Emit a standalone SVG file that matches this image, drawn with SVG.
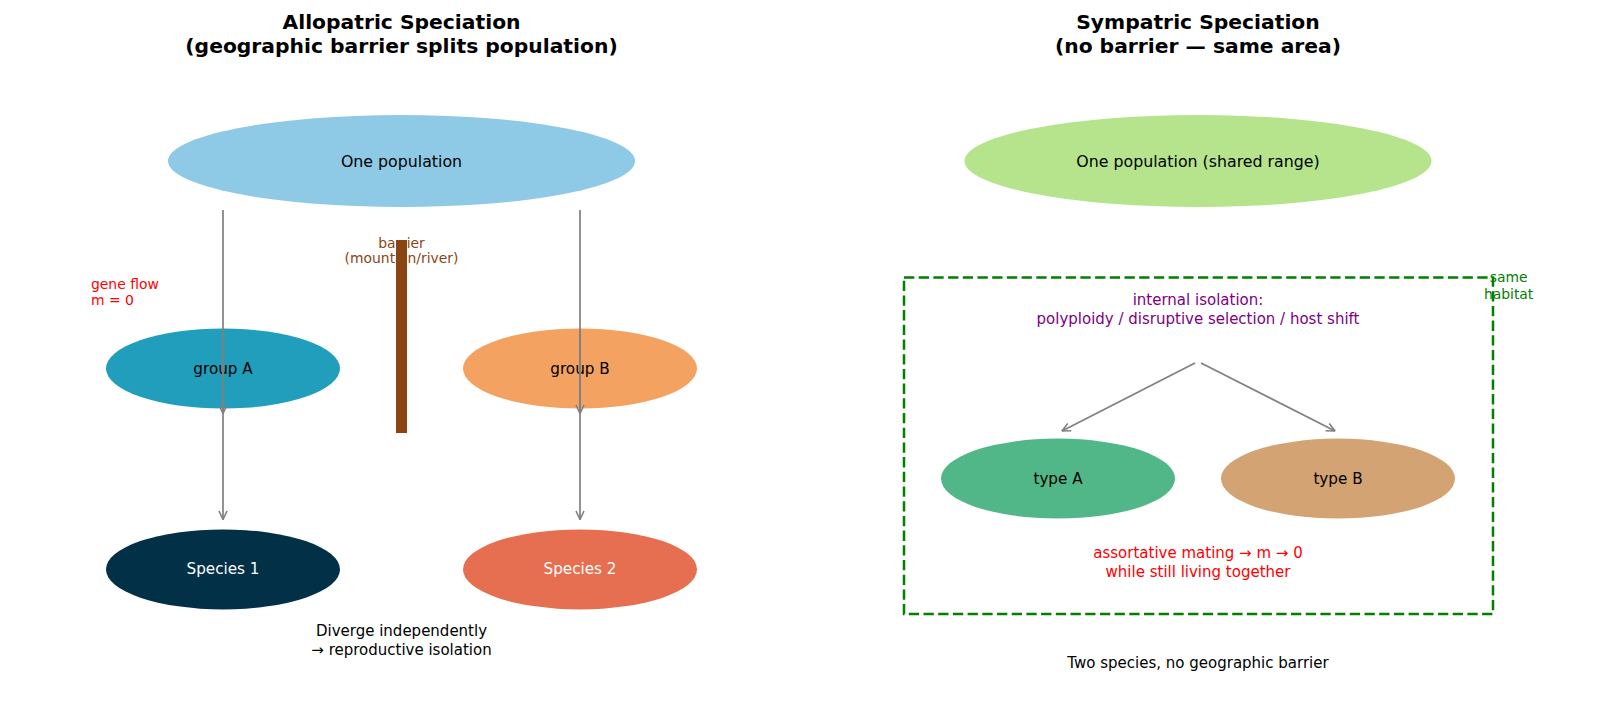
<svg xmlns="http://www.w3.org/2000/svg" width="1600" height="726" viewBox="0 0 1600 726">
<defs>
<style>
text{font-family:"DejaVu Sans","Liberation Sans",sans-serif;}
.title{font-size:20.3px;font-weight:bold;fill:#000;text-anchor:middle;}
.lbl{font-size:15.2px;text-anchor:middle;dominant-baseline:central;}
.big{font-size:15.8px;}
.small{font-size:13.9px;}
.mid{font-size:15px;text-anchor:middle;}
.conn{stroke:#808080;stroke-width:1.7;fill:none;marker-end:url(#arr);}
</style>
<marker id="arr" viewBox="0 0 10 10" refX="9.5" refY="5" markerWidth="10" markerHeight="10" markerUnits="userSpaceOnUse" orient="auto">
<path d="M1,1 L9.5,5 L1,9" fill="none" stroke="#808080" stroke-width="1.6"/>
</marker>
</defs>
<rect width="1600" height="726" fill="#fff"/>

<g id="titles">
<text class="title" x="401.5" y="29">Allopatric Speciation</text>
<text class="title" x="401.5" y="53">(geographic barrier splits population)</text>
<text class="title" x="1198" y="29">Sympatric Speciation</text>
<text class="title" x="1198" y="53">(no barrier — same area)</text>
</g>

<g id="pop-left">
<ellipse cx="401.5" cy="161" rx="233.5" ry="46" fill="#8ECAE6"/>
<text class="lbl big" x="401.5" y="161">One population</text>
</g>
<g id="groupA">
<ellipse cx="223" cy="368.5" rx="117" ry="40" fill="#219EBC"/>
<text class="lbl" x="223" y="368.5">group A</text>
</g>
<g id="groupB">
<ellipse cx="580" cy="368.5" rx="117" ry="40" fill="#F4A261"/>
<text class="lbl" x="580" y="368.5">group B</text>
</g>
<g id="species1">
<ellipse cx="223" cy="569.4" rx="117" ry="40" fill="#023047"/>
<text class="lbl" x="223" y="569.4" fill="#fff">Species 1</text>
</g>
<g id="species2">
<ellipse cx="580" cy="569.4" rx="117" ry="40" fill="#E76F51"/>
<text class="lbl" x="580" y="569.4" fill="#fff">Species 2</text>
</g>

<g id="barrier">
<text class="small" x="401.5" y="247.5" fill="#8B4513" text-anchor="middle">barrier</text>
<text class="small" x="401.5" y="263" fill="#8B4513" text-anchor="middle">(mountain/river)</text>
<rect x="396" y="240" width="11" height="193" fill="#8B4513"/>
</g>

<g id="geneflow">
<text class="small" x="91" y="288.5" fill="#FF0000">gene flow</text>
<text class="small" x="91" y="304.5" fill="#FF0000">m = 0</text>
</g>

<g id="diverge">
<text class="mid" x="401.5" y="636">Diverge independently</text>
<text class="mid" x="401.5" y="654.5">→ reproductive isolation</text>
</g>

<g id="pop-right">
<ellipse cx="1198" cy="161" rx="233.5" ry="46" fill="#B5E48C"/>
<text class="lbl big" x="1198" y="161">One population (shared range)</text>
</g>

<g id="habitat">
<rect x="904" y="277.5" width="589" height="336.5" fill="none" stroke="#008000" stroke-width="2.5" stroke-dasharray="10.3,4.4"/>
<text class="small" x="1508.6" y="282" fill="#008000" text-anchor="middle">same</text>
<text class="small" x="1508.6" y="298.5" fill="#008000" text-anchor="middle">habitat</text>
</g>

<g id="isolation">
<text class="mid" x="1198" y="305.3" fill="#800080">internal isolation:</text>
<text class="mid" x="1198" y="323.6" fill="#800080">polyploidy / disruptive selection / host shift</text>
</g>

<g id="typeA">
<ellipse cx="1058" cy="478.6" rx="117" ry="40" fill="#52B788"/>
<text class="lbl" x="1058" y="478.6">type A</text>
</g>
<g id="typeB">
<ellipse cx="1338" cy="478.6" rx="117" ry="40" fill="#D4A373"/>
<text class="lbl" x="1338" y="478.6">type B</text>
</g>

<g id="mating">
<text class="mid" x="1198" y="558.3" fill="#FF0000">assortative mating → m → 0</text>
<text class="mid" x="1198" y="576.7" fill="#FF0000">while still living together</text>
</g>

<g id="summary">
<text class="mid" x="1198" y="667.5">Two species, no geographic barrier</text>
</g>

<g id="connectors">
<line class="conn" x1="223" y1="210" x2="223" y2="413.5"/>
<line class="conn" x1="223" y1="330" x2="223" y2="519.5"/>
<line class="conn" x1="580" y1="210" x2="580" y2="413.5"/>
<line class="conn" x1="580" y1="330" x2="580" y2="519.5"/>
<line class="conn" x1="1195" y1="363" x2="1062" y2="431"/>
<line class="conn" x1="1201" y1="363" x2="1335" y2="431"/>
</g>
</svg>
